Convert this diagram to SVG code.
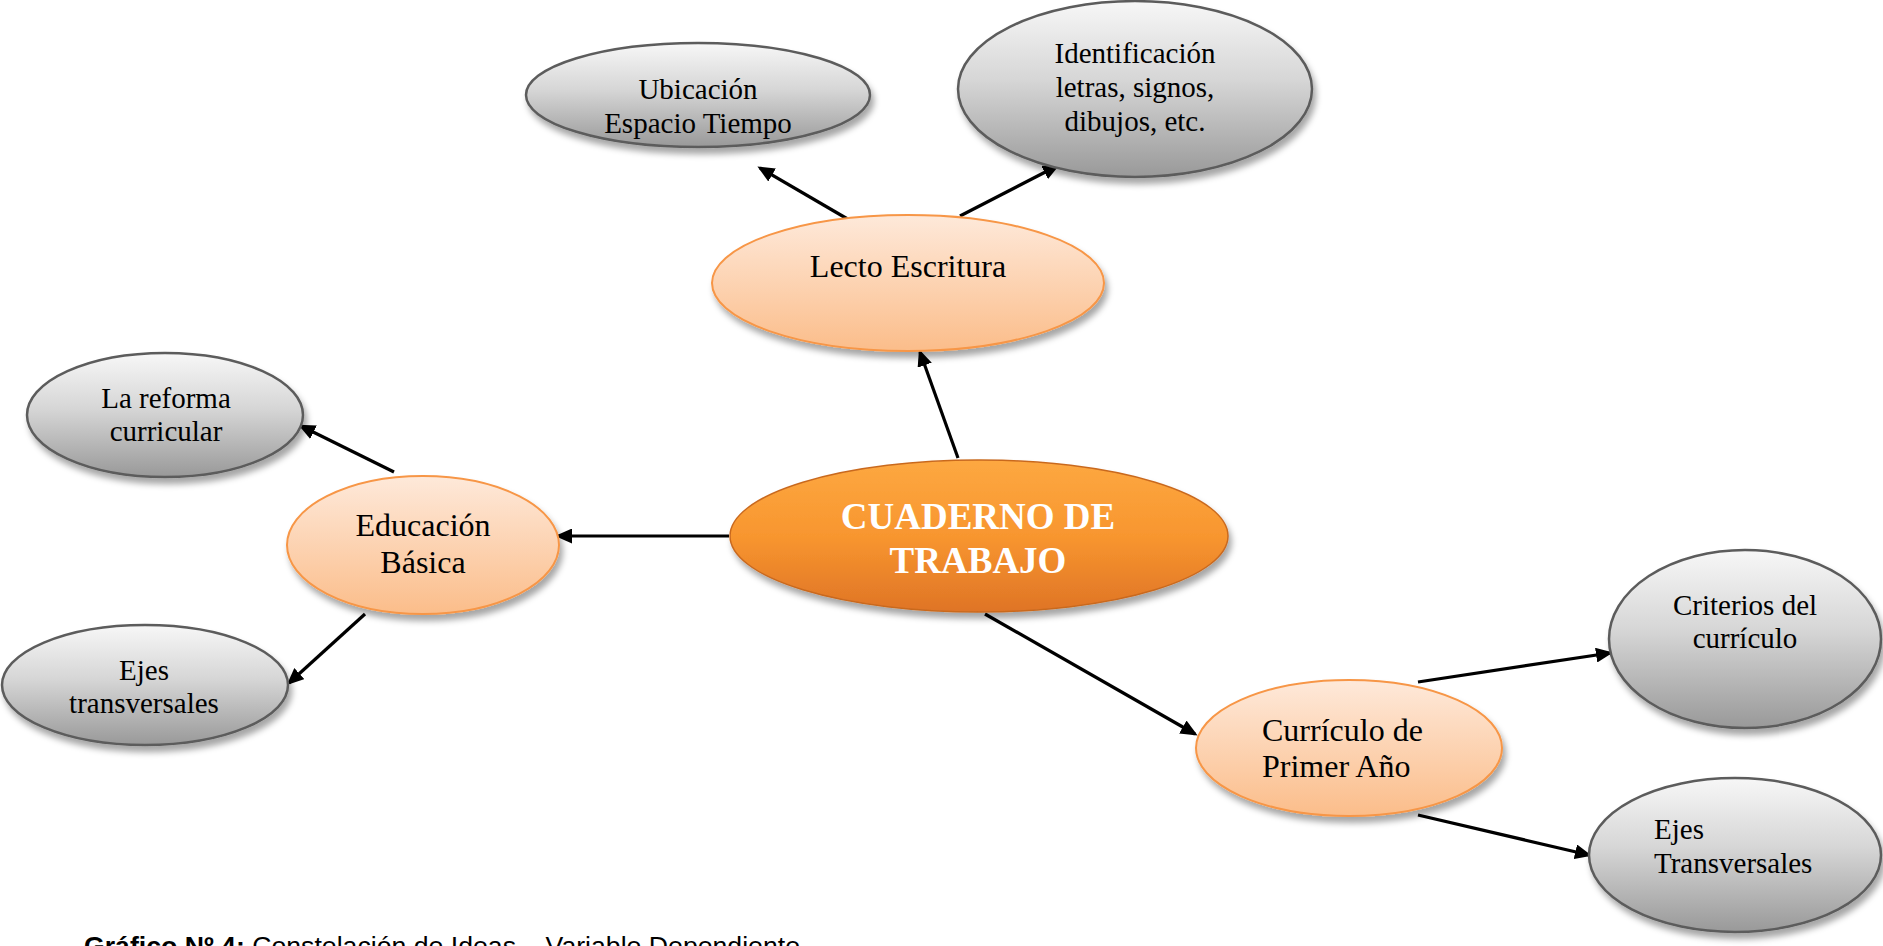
<svg xmlns="http://www.w3.org/2000/svg" width="1883" height="946" viewBox="0 0 1883 946">
<defs>
<linearGradient id="gGray" x1="0" y1="0" x2="0" y2="1">
<stop offset="0" stop-color="#f7f7f7"/>
<stop offset="0.45" stop-color="#d6d6d6"/>
<stop offset="1" stop-color="#999999"/>
</linearGradient>
<linearGradient id="gOrange" x1="0" y1="0" x2="0" y2="1">
<stop offset="0" stop-color="#fee9da"/>
<stop offset="1" stop-color="#fbbd8a"/>
</linearGradient>
<linearGradient id="gMain" x1="0" y1="0" x2="0" y2="1">
<stop offset="0" stop-color="#fda841"/>
<stop offset="0.5" stop-color="#f8962f"/>
<stop offset="1" stop-color="#df7426"/>
</linearGradient>
<filter id="shadow" x="-10%" y="-10%" width="125%" height="130%">
<feDropShadow dx="3" dy="6" stdDeviation="3" flood-color="#000" flood-opacity="0.35"/>
</filter>
<marker id="arrow" markerUnits="userSpaceOnUse" markerWidth="17" markerHeight="15" refX="14" refY="7.5" orient="auto">
<path d="M0,0 L17,7.5 L0,15 z" fill="#000"/>
</marker>
<style>
.gray{fill:url(#gGray);stroke:#5c5c5c;stroke-width:2.5;filter:url(#shadow)}
.orange{fill:url(#gOrange);stroke:#f79646;stroke-width:2;filter:url(#shadow)}
.main{fill:url(#gMain);stroke:#c9691f;stroke-width:1.5;filter:url(#shadow)}
.t29{font-family:"Liberation Serif","Times New Roman",serif;font-size:29px;fill:#000}
.t32{font-family:"Liberation Serif","Times New Roman",serif;font-size:32px;fill:#000}
.tmain{font-family:"Liberation Serif","Times New Roman",serif;font-size:37px;font-weight:bold;fill:#fff}
.c{text-anchor:middle}
.conn line{stroke:#000;stroke-width:3.2;marker-end:url(#arrow)}
.cap{font-family:"Liberation Sans",Arial,sans-serif;font-size:26px;fill:#000}
</style>
</defs>
<rect width="1883" height="946" fill="#fff"/>

<g id="connectors" class="conn">
<line x1="958" y1="458" x2="920" y2="352"/>
<line x1="729" y1="536" x2="558" y2="536"/>
<line x1="985" y1="614" x2="1195" y2="734"/>
<line x1="851" y1="221" x2="760" y2="168"/>
<line x1="960" y1="216" x2="1057" y2="166"/>
<line x1="394" y1="472" x2="301" y2="426"/>
<line x1="365" y1="614" x2="289" y2="683"/>
<line x1="1418" y1="682" x2="1610" y2="653"/>
<line x1="1418" y1="815" x2="1589" y2="855"/>
</g>

<g id="node-ubicacion">
<ellipse class="gray" cx="698" cy="95" rx="172" ry="52"/>
<text class="t29 c" x="698" y="99">Ubicación</text>
<text class="t29 c" x="698" y="133">Espacio Tiempo</text>
</g>

<g id="node-identificacion">
<ellipse class="gray" cx="1135" cy="89" rx="177" ry="88"/>
<text class="t29 c" x="1135" y="63">Identificación</text>
<text class="t29 c" x="1135" y="97">letras, signos,</text>
<text class="t29 c" x="1135" y="131">dibujos, etc.</text>
</g>

<g id="node-lecto">
<ellipse class="orange" cx="908" cy="283" rx="196" ry="68"/>
<text class="t32 c" x="908" y="277">Lecto Escritura</text>
</g>

<g id="node-reforma">
<ellipse class="gray" cx="165" cy="415" rx="138" ry="62"/>
<text class="t29 c" x="166" y="408">La reforma</text>
<text class="t29 c" x="166" y="441">curricular</text>
</g>

<g id="node-educacion">
<ellipse class="orange" cx="423" cy="545" rx="136" ry="69"/>
<text class="t32 c" x="423" y="536">Educación</text>
<text class="t32 c" x="423" y="573">Básica</text>
</g>

<g id="node-ejes-left">
<ellipse class="gray" cx="145" cy="685" rx="143" ry="60"/>
<text class="t29 c" x="144" y="680">Ejes</text>
<text class="t29 c" x="144" y="713">transversales</text>
</g>

<g id="node-central">
<ellipse class="main" cx="979" cy="536" rx="249" ry="76"/>
<text class="tmain c" x="978" y="529">CUADERNO DE</text>
<text class="tmain c" x="978" y="573">TRABAJO</text>
</g>

<g id="node-curriculo">
<ellipse class="orange" cx="1349" cy="748" rx="153" ry="68"/>
<text class="t32" x="1262" y="741">Currículo de</text>
<text class="t32" x="1262" y="777">Primer Año</text>
</g>

<g id="node-criterios">
<ellipse class="gray" cx="1745" cy="639" rx="136" ry="89"/>
<text class="t29 c" x="1745" y="615">Criterios del</text>
<text class="t29 c" x="1745" y="648">currículo</text>
</g>

<g id="node-ejes-right">
<ellipse class="gray" cx="1735" cy="855" rx="146" ry="77"/>
<text class="t29" x="1654" y="839">Ejes</text>
<text class="t29" x="1654" y="873">Transversales</text>
</g>

<text class="cap" x="84" y="955" textLength="716" lengthAdjust="spacingAndGlyphs"><tspan font-weight="bold">Gráfico Nº 4:</tspan> Constelación de Ideas – Variable Dependiente</text>
</svg>
